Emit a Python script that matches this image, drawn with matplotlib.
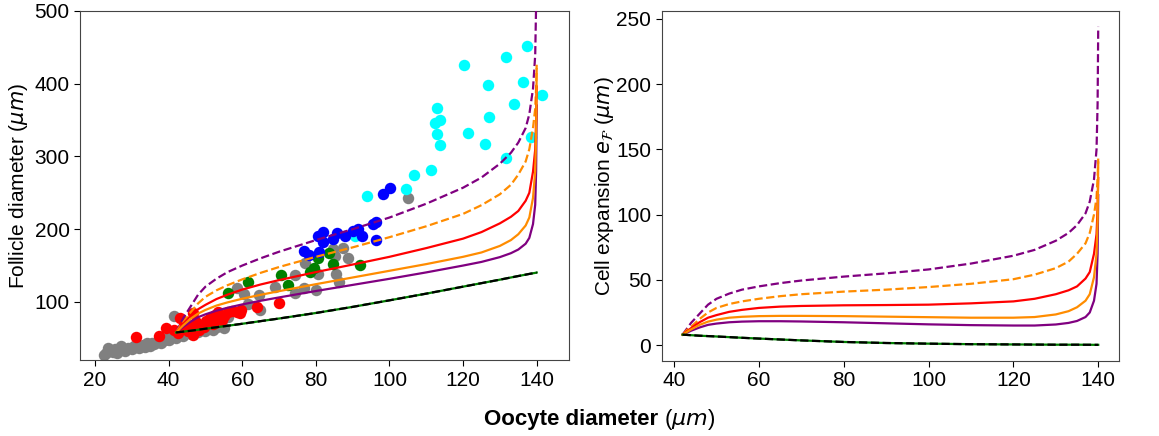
import matplotlib
matplotlib.use("Agg")
import matplotlib.pyplot as plt

plt.rcParams['font.family'] = ['Liberation Sans', 'DejaVu Sans']

# Oocyte diameter grid for model curves
oocyte = [42, 43, 44, 46, 48, 50, 53, 56, 60, 65, 70, 80, 90, 100, 110, 120,
          125, 130, 133, 135, 137, 138, 139, 139.6, 139.85, 140]

# Left panel: follicle diameter model curves
fol_purple_dash = [58, 68, 78, 94, 110, 121, 132, 141, 150, 160, 169, 185, 200, 216,
                   235, 257, 271, 290, 305, 319, 339, 358, 393, 439.5, 509.8, 628]
fol_orange_dash = [58, 66, 72, 86, 98, 107, 116, 123, 131, 140, 148, 162, 175, 189,
                   204, 221, 233, 248, 261, 275, 293, 310, 339, 365.5, 395.8, 426]
fol_red = [58, 64, 70, 81, 90, 96, 104, 110, 117, 124, 130, 141, 151.4, 162,
           174, 187, 196, 208, 217, 225, 239, 250, 279, 309.5, 349.8, 396]
fol_orange = [58, 63, 68, 77, 84, 89, 95, 99.4, 104.4, 109.8, 114.8, 124.4, 133.6, 142.8,
              152, 162, 168, 177, 185, 193, 205, 216, 243, 279.5, 329.8, 420]
fol_purple = [58, 62, 66, 73, 79, 83, 88, 92, 96.6, 101.6, 106.2, 115, 123.4, 131.8,
              140.6, 150, 155, 161.6, 167, 172, 180, 188, 207, 233.5, 279.8, 370]
fol_black = [58, 58.6, 59.2, 60.4, 61.8, 63.2, 65.2, 67.2, 70, 73.6, 77.2, 84.8, 93.2, 102.2,
             111.4, 121, 125.8, 130.6, 133.6, 135.6, 137.5, 138.5, 139.4, 139.9, 140.2, 140.4]

# Right panel: cell expansion curves
exp_purple_dash = [8, 12.5, 17, 24, 31, 35.5, 39.5, 42.5, 45, 47.5, 49.5, 52.5, 55, 58,
                   62.5, 68.5, 73, 80, 86, 92, 101, 110, 127, 150, 185, 244]
exp_orange_dash = [8, 11.5, 14, 20, 25, 28.5, 31.5, 33.5, 35.5, 37.5, 39, 41, 42.5, 44.5,
                   47, 50.5, 54, 59, 64, 70, 78, 86, 100, 113, 128, 143]
exp_red = [8, 10.5, 13, 17.5, 21, 23, 25.5, 27, 28.5, 29.5, 30, 30.5, 30.7, 31,
           32, 33.5, 35.5, 39, 42, 45, 51, 56, 70, 85, 105, 128]
exp_orange = [8, 10, 12, 15.5, 18, 19.5, 21, 21.7, 22.2, 22.4, 22.4, 22.2, 21.8, 21.4,
              21, 21, 21.5, 23.5, 26, 29, 34, 39, 52, 70, 95, 140]
exp_purple = [8, 9.5, 11, 13.5, 15.5, 16.5, 17.5, 18, 18.3, 18.3, 18.1, 17.5, 16.7, 15.9,
              15.3, 15, 15, 15.8, 17, 18.5, 21.5, 25, 34, 47, 70, 115]
exp_black = [8, 7.8, 7.6, 7.2, 6.9, 6.6, 6.1, 5.6, 5, 4.3, 3.6, 2.4, 1.6, 1.1,
             0.7, 0.5, 0.4, 0.3, 0.3, 0.3, 0.25, 0.25, 0.2, 0.2, 0.2, 0.2]

# Measured data (oocyte, follicle)
gray_x = [22.5, 23, 23.5, 24, 25, 25.5, 26, 27, 27.5, 28, 29, 30, 30.5, 31.5, 32, 33,
          33.5, 34, 35, 35.5, 36, 37, 37.5, 38, 39, 39.5, 40, 41, 41.3, 42, 43, 44, 45,
          46, 47, 48, 49, 50, 52, 53, 55, 41.5, 45, 50, 54, 56, 58.5, 60.5, 61.5, 64.6,
          64.8, 68.9, 74.3, 74.3, 76.8, 77, 80, 80.7, 84.6, 85.2, 85.4, 86.3, 87.5, 88.8,
          105.1]
gray_y = [27, 30, 37, 33, 31, 35, 30, 39, 34, 32, 37, 35, 40, 38, 36, 41,
          38, 43, 40, 44, 42, 45, 47, 44, 48, 51, 47, 53, 59, 51, 55, 53, 58,
          56, 60, 58, 63, 60, 61, 66, 64, 80.5, 70, 68, 72, 79, 118.5, 111, 97, 110,
          89, 120, 136.5, 112, 119.5, 153, 117, 139, 172.5, 162.5, 138, 127, 173.5, 160.5,
          243.5]
red_x = [31.1, 37.4, 39.4, 41.5, 42.5, 43.1, 44.2, 45.3, 45.8, 46.7, 46.7, 47.5, 48.3,
         49.5, 50.2, 51.2, 52, 52.6, 53.5, 54.4, 55, 56.2, 57.1, 58.5, 59.7, 59.4, 64.1, 70]
red_y = [51.3, 53.5, 64.5, 62, 57, 77.5, 68, 60, 66, 54.4, 84.4, 72, 62,
         66, 73.5, 77.5, 70, 82, 86.5, 75, 80, 86.6, 88, 86.6, 89, 84.5, 92.5, 98.2]
green_x = [56.2, 61.5, 70.5, 72.3, 78.4, 79.4, 80.6, 83.7, 84.7, 92]
green_y = [112, 128, 136.4, 123.5, 141, 147, 160, 167, 152.5, 151]
blue_x = [76.8, 78.2, 80.9, 80.5, 82, 82, 84.7, 85.7, 88, 90.1, 91.5, 92.4, 95.6, 96.4,
          96.4, 98.3, 100.1]
blue_y = [170, 164, 168, 191, 195.5, 183, 186, 195, 190, 197.5, 200, 190.5, 207.7, 209.5,
          184.6, 247.7, 257]
cyan_x = [137.4, 131.7, 120.2, 126.9, 136.4, 141.5, 133.8, 112.8, 113.7, 112.4, 127.1,
          112.9, 121.4, 138.4, 113.8, 126, 131.7, 111.2, 106.7, 104.5, 93.8, 90.6]
cyan_y = [451.6, 436.4, 425.8, 398.6, 401.9, 384.4, 371.6, 366, 349.9, 345.8, 354,
          331, 332, 326.8, 315.8, 316.8, 298.4, 281.8, 274.4, 255, 245.4, 191]

FS = 15
fig = plt.figure(figsize=(11.59, 4.36), dpi=100)
ax1 = fig.add_axes([0.069, 0.174, 0.422, 0.801])
ax2 = fig.add_axes([0.571, 0.172, 0.3945, 0.803])

S = 68
ax1.scatter(gray_x, gray_y, s=S, color='gray', zorder=2, linewidths=0)
ax1.scatter(cyan_x, cyan_y, s=S, color='cyan', zorder=2, linewidths=0)
ax1.scatter(red_x, red_y, s=S, color='red', zorder=2, linewidths=0)
ax1.scatter(green_x, green_y, s=S, color='green', zorder=2, linewidths=0)
ax1.scatter(blue_x, blue_y, s=S, color='blue', zorder=2, linewidths=0)

def draw_curves(ax, pd, od, r, o, p, k):
    lw = 1.6
    ax.plot(oocyte, pd, color='purple', ls='--', lw=lw, zorder=3)
    ax.plot(oocyte, od, color='darkorange', ls='--', lw=lw, zorder=3)
    ax.plot(oocyte, p, color='purple', lw=lw, zorder=3)
    ax.plot(oocyte, r, color='red', lw=lw, zorder=3)
    ax.plot(oocyte, o, color='darkorange', lw=lw, zorder=3)
    ax.plot(oocyte, k, color='green', lw=lw, zorder=4)
    ax.plot(oocyte, k, color='black', ls='--', lw=lw, zorder=4)

draw_curves(ax1, fol_purple_dash, fol_orange_dash, fol_red, fol_orange, fol_purple, fol_black)
draw_curves(ax2, exp_purple_dash, exp_orange_dash, exp_red, exp_orange, exp_purple, exp_black)

ax1.set_xlim(15.9, 148.8)
ax1.set_ylim(20, 500)
ax1.set_xticks([20, 40, 60, 80, 100, 120, 140])
ax1.set_yticks([100, 200, 300, 400, 500])
ax2.set_xlim(37.1, 144.9)
ax2.set_ylim(-12.2, 256.2)
ax2.set_xticks([40, 60, 80, 100, 120, 140])
ax2.set_yticks([0, 50, 100, 150, 200, 250])

for ax in (ax1, ax2):
    ax.tick_params(labelsize=FS, length=4)
    for sp in ax.spines.values():
        sp.set_color('#444444')

ax1.set_ylabel(r"Follicle diameter ($\mu m$)", fontsize=FS, labelpad=3)
ax2.set_ylabel(r"Cell expansion $e_{\mathcal{F}}$ ($\mu m$)", fontsize=FS, labelpad=0)

# Shared x label: bold part + normal part
fig.canvas.draw()
renderer = fig.canvas.get_renderer()
t1 = fig.text(0.5, 0.037, "Oocyte diameter", fontsize=16, fontweight='bold',
              ha='left', va='center')
t2 = fig.text(0.5, 0.037, r" ($\mu m$)", fontsize=16, ha='left', va='center')
w1 = t1.get_window_extent(renderer).width
w2 = t2.get_window_extent(renderer).width
W = fig.get_figwidth() * fig.dpi
x0 = 600.0 / W - (w1 + w2) / 2 / W
t1.set_x(x0)
t2.set_x(x0 + w1 / W)

fig.savefig("out.png", dpi=100)
